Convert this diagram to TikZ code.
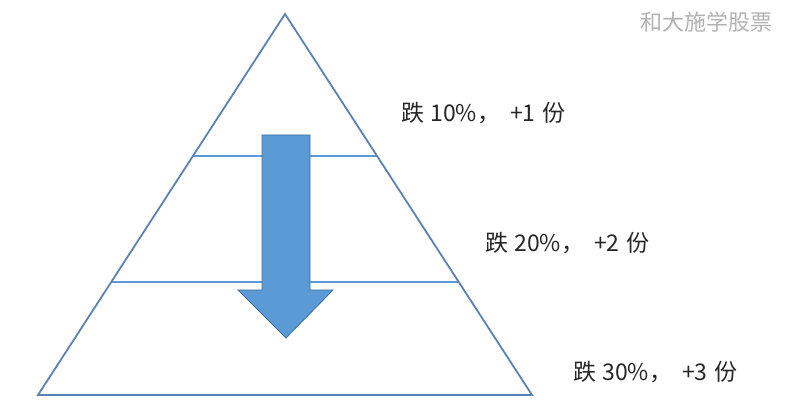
\documentclass[tikz,border=0pt]{standalone}
\usepackage{fontspec}
\setmainfont{Noto Sans CJK SC}
\usepackage{tikz}
\usetikzlibrary{positioning,calc}
\definecolor{edgeblue}{HTML}{5A82B4}
\definecolor{lineblue}{HTML}{5B9BD5}
\definecolor{arrowfill}{HTML}{5B9BD5}
\definecolor{arrowedge}{HTML}{41719C}
\newcommand{\fall}[2]{跌\hspace{1pt} #1\%，\hspace{10pt}+#2\hspace{2pt} 份}

\begin{document}
\begin{tikzpicture}[x=1pt, y=-1pt, every node/.style = {align=center},
    label/.style = {font=\fontsize{23}{26}\selectfont, text=black!85, inner sep=0pt},
    level/.style = {draw=lineblue, line width=1.6pt}]
  \useasboundingbox (0,0) rectangle (788,406);
  \coordinate (top) at (285,14);
  \coordinate (left) at (38,395);
  \coordinate (right) at (532,395);
  % the two levels
  \draw[level] ($(top)!0.3727!(left)$) -- ($(top)!0.3727!(right)$);
  \draw[level] ($(top)!0.7034!(left)$) -- ($(top)!0.7034!(right)$);
  \draw[draw=edgeblue, line width=1.8pt, line join=miter] (top) -- (left) -- (right) -- cycle;
  % arrow down
  \draw[fill=arrowfill, draw=arrowedge, line width=0.8pt]
    (262,135) -- (310,135) -- (310,290) -- (333,290) -- (286,338)
    -- (238,290) -- (262,290) -- cycle;
  \node[label, anchor=west] (ten) at (401,113) {\fall{10}{1}};
  \node[label, anchor=west] (twenty) at (485,243) {\fall{20}{2}};
  \node[label, anchor=west] (thirty) at (573,372) {\fall{30}{3}};
  \node[font=\fontsize{22}{24}\selectfont, text=black!30, inner sep=0pt, anchor=east] (mark) at (773,22) {和大施学股票};
\end{tikzpicture}
\end{document}
